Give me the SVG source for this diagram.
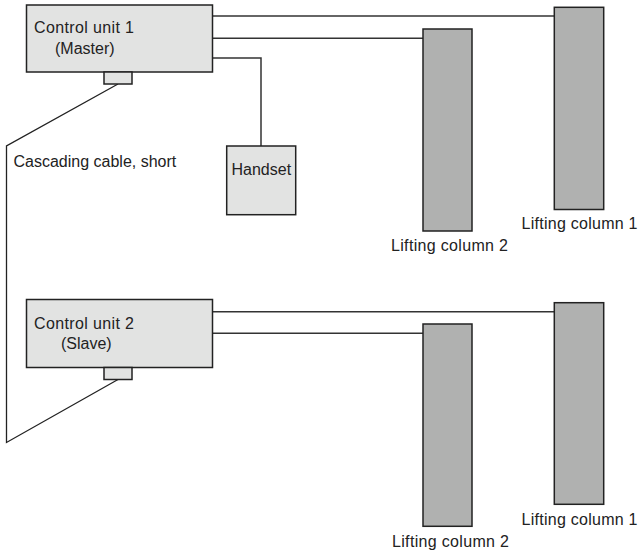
<svg xmlns="http://www.w3.org/2000/svg" width="639" height="558" viewBox="0 0 639 558">
  <style>
    .unit { fill: #e2e3e2; stroke: #222; stroke-width: 1.5; }
    .column { fill: #b0b1b0; stroke: #222; stroke-width: 1.5; }
    .wire { fill: none; stroke: #333; stroke-width: 1.5; }
    .cable { fill: none; stroke: #222; stroke-width: 1.3; }
    text { font-family: "Liberation Sans", Arial, sans-serif; font-size: 16px; fill: #222; }
  </style>
  <rect width="639" height="558" fill="#ffffff"/>

  <!-- connectors -->
  <g id="connectors">
    <!-- master wiring -->
    <path class="wire" d="M212.5 16 H554.3"/>
    <path class="wire" d="M212.5 38.3 H423"/>
    <path class="wire" d="M212.5 58 H261 V146"/>
    <!-- slave wiring -->
    <path class="wire" d="M212.5 311.7 H554.3"/>
    <path class="wire" d="M212.5 333.3 H423"/>
    <!-- cascading cable between the two units -->
    <path class="cable" d="M118 84 L6.5 146 V442.5 L118 379.5"/>
  </g>

  <g id="control-unit-1">
    <rect class="unit" x="26.5" y="5" width="186" height="67"/>
    <rect class="unit" x="104" y="72" width="28" height="12"/>
    <text x="34" y="32.5" textLength="100">Control unit 1</text>
    <text x="55" y="53.5">(Master)</text>
  </g>

  <g id="handset">
    <rect class="unit" x="226.7" y="146" width="69" height="68.7"/>
    <text x="231.5" y="175.3">Handset</text>
  </g>

  <g id="cable-label">
    <text x="13.5" y="167">Cascading cable, short</text>
  </g>

  <g id="lifting-column-2-top">
    <rect class="column" x="423" y="29" width="49" height="202"/>
    <text x="391" y="251" textLength="117">Lifting column 2</text>
  </g>

  <g id="lifting-column-1-top">
    <rect class="column" x="554.3" y="7.3" width="49.4" height="202.2"/>
    <text x="521.5" y="229" textLength="116">Lifting column 1</text>
  </g>

  <g id="control-unit-2">
    <rect class="unit" x="26.5" y="299.5" width="186" height="68"/>
    <rect class="unit" x="104" y="367.5" width="28" height="12"/>
    <text x="34" y="328.5" textLength="100">Control unit 2</text>
    <text x="61" y="349">(Slave)</text>
  </g>

  <g id="lifting-column-2-bottom">
    <rect class="column" x="423" y="324" width="49" height="202.3"/>
    <text x="392" y="546.5" textLength="117">Lifting column 2</text>
  </g>

  <g id="lifting-column-1-bottom">
    <rect class="column" x="554.3" y="302.7" width="49.4" height="201.6"/>
    <text x="521.5" y="524.5" textLength="116">Lifting column 1</text>
  </g>
</svg>
